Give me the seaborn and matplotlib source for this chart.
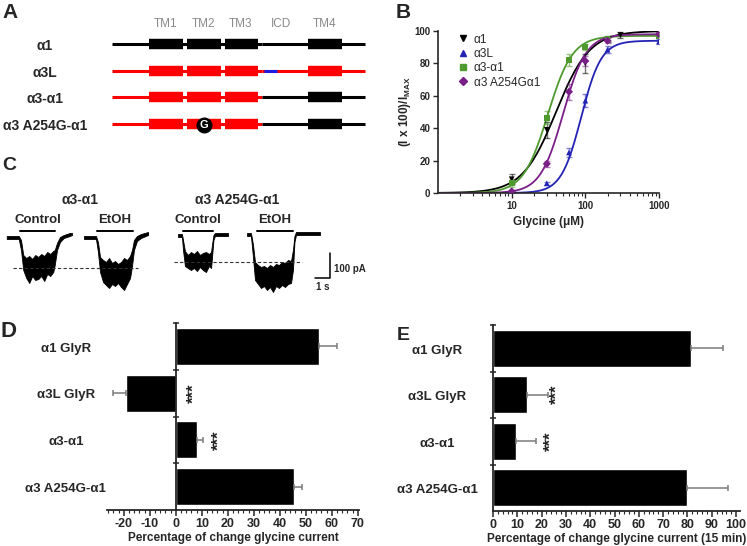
import numpy as np
import pandas as pd
import matplotlib
matplotlib.use('Agg')
import matplotlib.pyplot as plt
import matplotlib.transforms as mtransforms
from matplotlib.lines import Line2D
from matplotlib.ticker import MultipleLocator, LogLocator, NullFormatter, FixedLocator
import seaborn as sns

# ---------------- Panel A: construct schematic (arbitrary positions along the subunit)
a_constructs = ['α1', 'α3L', 'α3-α1', 'α3 A254G-α1']
a_domains = ['TM1', 'TM2', 'TM3', 'ICD', 'TM4']
a_domain_mid = [166, 204, 241, 281, 325]
a_tm_start = [149, 187, 225, 308]
a_tm_end = [183, 221, 258, 342]
a_gene_start, a_gene_end = 112, 365
a_junction = 262
a_nterm_colour = ['black', 'red', 'red', 'red']
a_cterm_colour = ['black', 'red', 'black', 'black']
a_insert = (264, 277)          # blue stretch in the α3L ICD
a_mutation_tm = 1              # G mark on TM2 of the A254G construct

# ---------------- Panel B: glycine concentration-response
b_names = ['α1', 'α3L', 'α3-α1', 'α3 A254Gα1']
b_colors = ['black', '#2323b4', '#4f9a2f', '#7b1f88']
b_markers = ['v', '^', 's', 'D']
a1_conc = [10, 30, 100, 200, 300, 1000]
a1_resp = [8.5, 39, 80, 95, 97.5, 98.5]
a1_sem = [3, 5, 6, 2, 2, 1]
a3l_conc = [30, 60, 100, 200, 1000]
a3l_resp = [6, 25, 57, 88.5, 93.5]
a3l_sem = [1, 3, 4, 2, 1.5]
chim_conc = [10, 30, 60, 100, 200, 1000]
chim_resp = [6, 46.5, 82, 90, 95, 97]
chim_sem = [2, 4, 3.5, 2, 1, 1]
mut_conc = [10, 30, 60, 100, 200, 1000]
mut_resp = [1, 18, 62.5, 81.5, 94, 98]
mut_sem = [1, 2, 5, 3, 1.5, 1]
# fitted Hill parameters
b_ec50 = [40, 88, 31, 50]
b_hill = [1.9, 3.2, 2.6, 2.8]
b_top = [100, 94, 97, 98]

# ---------------- Panel C: current traces (time in s, current envelope in pA)
c1_t = [0.45, 1.25, 1.4, 1.55, 1.75, 1.95, 2.15, 2.35, 2.55, 2.75, 2.95, 3.15, 3.35, 3.55, 3.65, 3.8, 4.0, 4.25, 4.65, 4.8]
c1_hi = [4, 4, -12, -72, -84, -76, -88, -72, -80, -68, -76, -60, -68, -56, -52, -24, 0, 8, 16, 16]
c1_lo = [-8, -8, -52, -132, -164, -184, -156, -172, -168, -156, -176, -148, -156, -140, -112, -52, -20, -4, 4, 8]
c2_t = [5.6, 6.4, 6.53, 6.67, 6.87, 7.07, 7.27, 7.47, 7.67, 7.87, 8.07, 8.27, 8.47, 8.67, 8.8, 8.93, 9.13, 9.4, 9.87]
c2_hi = [4, 4, -20, -80, -92, -100, -84, -104, -96, -108, -100, -84, -92, -76, -52, -12, 4, 12, 20]
c2_lo = [-8, -8, -60, -140, -180, -192, -204, -188, -196, -184, -200, -212, -188, -164, -116, -52, -16, -4, 8]
c3_t = [11.87, 12.13, 12.2, 12.33, 12.53, 12.73, 12.93, 13.13, 13.33, 13.53, 13.73, 13.93, 14.07, 14.13, 14.23, 14.33, 15.2]
c3_hi = [12, 12, -12, -56, -72, -60, -68, -56, -72, -64, -60, -68, -60, -32, 8, 16, 16]
c3_lo = [0, 0, -52, -116, -124, -132, -124, -136, -120, -132, -140, -116, -124, -84, -12, 4, 4]
c4_t = [16.47, 16.73, 16.87, 17.0, 17.2, 17.4, 17.6, 17.8, 18.0, 18.2, 18.4, 18.6, 18.8, 19.0, 19.2, 19.4, 19.53, 19.63, 19.73, 21.33]
c4_hi = [16, 16, -32, -100, -112, -120, -116, -124, -112, -120, -108, -112, -100, -104, -92, -96, -52, 4, 20, 20]
c4_lo = [4, 4, -84, -172, -188, -204, -196, -212, -200, -220, -196, -204, -192, -200, -188, -184, -132, -20, 8, 8]
c_app_start = [1.33, 6.47, 12.2, 17.13]
c_app_end = [3.67, 8.87, 14.2, 19.53]
c_app_label = ['Control', 'EtOH', 'Control', 'EtOH']
c_ref_level = [-124, -100]
c_ref_span = [(0.87, 9.2), (11.6, 20.13)]
c_titles = ['α3-α1', 'α3 A254G-α1']

# ---------------- Panels D and E: ethanol potentiation
de_labels = ['α1 GlyR', 'α3L GlyR', 'α3-α1', 'α3 A254G-α1']
d_mean = [55, -19, 8, 45.5]
d_sem = [7, 5, 2.5, 3]
d_star_x = [7, 16.5]
e_mean = [81.5, 14, 9.5, 80]
e_sem = [13, 8.5, 8, 16.5]
e_star_x = [26.5, 24]
star_rows = [1, 2]

sns.set_theme(style='ticks')
plt.rcParams['font.family'] = ['Liberation Sans', 'DejaVu Sans']
plt.rcParams['font.weight'] = 'bold'
plt.rcParams['axes.labelweight'] = 'bold'
plt.rcParams['axes.unicode_minus'] = False
plt.rcParams['mathtext.fontset'] = 'custom'
plt.rcParams['mathtext.bf'] = 'Liberation Sans:bold'
plt.rcParams['mathtext.rm'] = 'Liberation Sans:bold'

W, H = 747, 546
fig = plt.figure(figsize=(W / 100, H / 100), dpi=100)


def px_axes(x0, y0, x1, y1):
    return fig.add_axes([x0 / W, 1 - y1 / H, (x1 - x0) / W, (y1 - y0) / H])


BLUE = '#1c1ce0'

# ---- A
axA = px_axes(0, 0, 380, 140)
axA.set_xlim(0, 380)
axA.set_ylim(3.6, -1.65)
axA.axis('off')
for name, mid in zip(a_domains, a_domain_mid):
    axA.text(mid, -0.75, name, ha='center', va='center', fontsize=8.5,
             color='#8a8a8a', fontweight='normal')
for i, name in enumerate(a_constructs):
    axA.text(45, i + 0.08, name, ha='center', va='center', fontsize=10)
    nc, cc = a_nterm_colour[i], a_cterm_colour[i]
    axA.plot([a_gene_start, a_junction], [i, i], color=nc, lw=2.2, solid_capstyle='butt')
    axA.plot([a_junction, a_gene_end], [i, i], color=cc, lw=2.2, solid_capstyle='butt')
    if name == 'α3L':
        axA.plot(list(a_insert), [i, i], color=BLUE, lw=2.2, solid_capstyle='butt')
    for s, e in zip(a_tm_start, a_tm_end):
        col = nc if e <= a_junction else cc
        axA.plot([s, e], [i, i], color=col, lw=7.5, solid_capstyle='butt')
    if name == 'α3 A254G-α1':
        gx = (a_tm_start[a_mutation_tm] + a_tm_end[a_mutation_tm]) / 2
        axA.scatter([gx], [i + 0.03], s=110, color='black', zorder=5)
        axA.text(gx, i + 0.05, 'G', color='white', ha='center', va='center',
                 fontsize=8, zorder=6)

# ---- B
axB = px_axes(438, 31, 659, 193)
series = [(a1_conc, a1_resp, a1_sem), (a3l_conc, a3l_resp, a3l_sem),
          (chim_conc, chim_resp, chim_sem), (mut_conc, mut_resp, mut_sem)]
xs = np.logspace(0, 3, 200)
curve_rows, point_rows = [], []
for k, name in enumerate(b_names):
    fit = b_top[k] / (1 + (b_ec50[k] / xs) ** b_hill[k])
    curve_rows.append(pd.DataFrame({'conc': xs, 'resp': fit, 'construct': name}))
    conc, resp, sem = series[k]
    point_rows.append(pd.DataFrame({'conc': conc, 'resp': resp, 'sem': sem, 'construct': name}))
curves = pd.concat(curve_rows)
points = pd.concat(point_rows)
pal = dict(zip(b_names, b_colors))
sns.lineplot(data=curves, x='conc', y='resp', hue='construct', palette=pal,
             lw=1.3, legend=False, ax=axB)
for k, name in enumerate(b_names):
    sub = points[points['construct'] == name]
    axB.errorbar(sub['conc'], sub['resp'], yerr=sub['sem'], fmt='none',
                 ecolor=b_colors[k], alpha=0.55, elinewidth=1, capsize=2)
sns.scatterplot(data=points, x='conc', y='resp', hue='construct', style='construct',
                palette=pal, markers=dict(zip(b_names, b_markers)), s=17,
                edgecolor='none', legend=False, ax=axB, zorder=4)
axB.set_xscale('log')
axB.set_xlim(1, 1000)
axB.set_ylim(0, 100)
axB.xaxis.set_major_locator(FixedLocator([10, 100, 1000]))
axB.xaxis.set_major_formatter(matplotlib.ticker.FixedFormatter(['10', '100', '1000']))
axB.xaxis.set_minor_locator(LogLocator(base=10, subs=np.arange(2, 10)))
axB.xaxis.set_minor_formatter(NullFormatter())
axB.yaxis.set_major_locator(MultipleLocator(20))
axB.tick_params(axis='both', which='major', labelsize=7, length=3.5, width=1, pad=2)
axB.tick_params(axis='x', which='minor', length=2, width=0.8)
for lab in axB.get_xticklabels() + axB.get_yticklabels():
    lab.set_fontweight('bold')
for s in ['top', 'right']:
    axB.spines[s].set_visible(False)
for s in ['left', 'bottom']:
    axB.spines[s].set_linewidth(1.2)
axB.set_xlabel('Glycine (μM)', fontsize=8.5, labelpad=4)
axB.set_ylabel(r'(I x 100)/I$_{\mathbf{MAX}}$', fontsize=8.5, labelpad=1)
handles = [Line2D([], [], marker=m, color=c, linestyle='none', markersize=4.5)
           for m, c in zip(b_markers, b_colors)]
axB.legend(handles, b_names, loc='upper left', bbox_to_anchor=(0.04, 1.05), frameon=False,
           handletextpad=0.4, labelspacing=0.2, handlelength=1.0,
           prop={'weight': 'normal', 'size': 8.5})

# ---- C
axC = px_axes(0, 185, 345, 300)
axC.set_xlim(0, 23)
axC.set_ylim(-252, 208)
axC.axis('off')
for t, lo, hi in [(c1_t, c1_lo, c1_hi), (c2_t, c2_lo, c2_hi),
                  (c3_t, c3_lo, c3_hi), (c4_t, c4_lo, c4_hi)]:
    axC.fill_between(t, lo, hi, color='black', lw=0.6, edgecolor='black')
for s, e, lab in zip(c_app_start, c_app_end, c_app_label):
    axC.plot([s, e], [24, 24], color='black', lw=1.4)
    axC.text((s + e) / 2, 44, lab, ha='center', va='bottom', fontsize=9.5)
for lvl, (s, e) in zip(c_ref_level, c_ref_span):
    axC.plot([s, e], [lvl, lvl], color='#333333', lw=0.8, ls=(0, (3, 2)))
axC.text(5.33, 148, c_titles[0], ha='center', va='center', fontsize=10)
axC.text(15.8, 148, c_titles[1], ha='center', va='center', fontsize=10)
axC.plot([21, 22, 22], [-164, -164, -64], color='black', lw=1.1)
axC.text(22.25, -128, '100 pA', ha='left', va='center', fontsize=7)
axC.text(21.5, -180, '1 s', ha='center', va='top', fontsize=7)


# ---- D / E
def bar_panel(ax, means, sems, label_x, star_x, xlim, xlabel):
    sns.barplot(x=means, y=de_labels, orient='h', color='black', saturation=1,
                width=0.79, errorbar=None, ax=ax)
    lower = [s if m < 0 else 0 for m, s in zip(means, sems)]
    upper = [s if m >= 0 else 0 for m, s in zip(means, sems)]
    ax.errorbar(means, range(len(means)), xerr=[lower, upper], fmt='none',
                ecolor='#7a7a7a', elinewidth=1.1, capsize=2.5, capthick=1.1)
    ax.set_xlim(*xlim)
    ax.set_ylim(3.5, -0.5)
    ax.set_yticks([-0.5, 0.5, 1.5, 2.5])
    ax.set_yticklabels([])
    ax.tick_params(axis='y', direction='inout', length=5, width=1.1)
    ax.xaxis.set_major_locator(MultipleLocator(10))
    ax.xaxis.set_minor_locator(MultipleLocator(2))
    ax.tick_params(axis='x', which='major', length=4, width=1.1, labelsize=9, pad=1.5)
    ax.tick_params(axis='x', which='minor', length=2.5, width=0.8)
    for lab in ax.get_xticklabels():
        lab.set_fontweight('bold')
    for s in ['top', 'right']:
        ax.spines[s].set_visible(False)
    for s in ['left', 'bottom']:
        ax.spines[s].set_linewidth(1.3)
    ax.spines['left'].set_position(('data', 0))
    ax.set_ylabel('')
    ax.set_xlabel(xlabel, fontsize=8.5, labelpad=2)
    trans = mtransforms.blended_transform_factory(ax.transAxes, ax.transData)
    for i, lab in enumerate(de_labels):
        ax.text(label_x, i + 0.05, lab, transform=trans, ha='center', va='center', fontsize=9.5)
    for r, sx in zip(star_rows, star_x):
        ax.text(sx, r, '***', rotation=90, ha='center', va='center', fontsize=12,
                color='#222222')


axD = px_axes(107, 323, 359, 510)
bar_panel(axD, d_mean, d_sem, -0.163, d_star_x, (-26.5, 70.5),
          'Percentage of change glycine current')
axE = px_axes(493, 325, 740, 511)
bar_panel(axE, e_mean, e_sem, -0.225, e_star_x, (0, 101.6),
          'Percentage of change glycine current (15 min)')

for letter, x, y, fs in [('A', 2, 3, 15), ('B', 396, 3, 15), ('C', 2, 157, 14),
                         ('D', 0, 321, 16), ('E', 397, 327, 14)]:
    fig.text(x / W, 1 - y / H, letter, fontsize=fs, fontweight='bold', va='top', ha='left')

fig.savefig('out.png', dpi=100)
